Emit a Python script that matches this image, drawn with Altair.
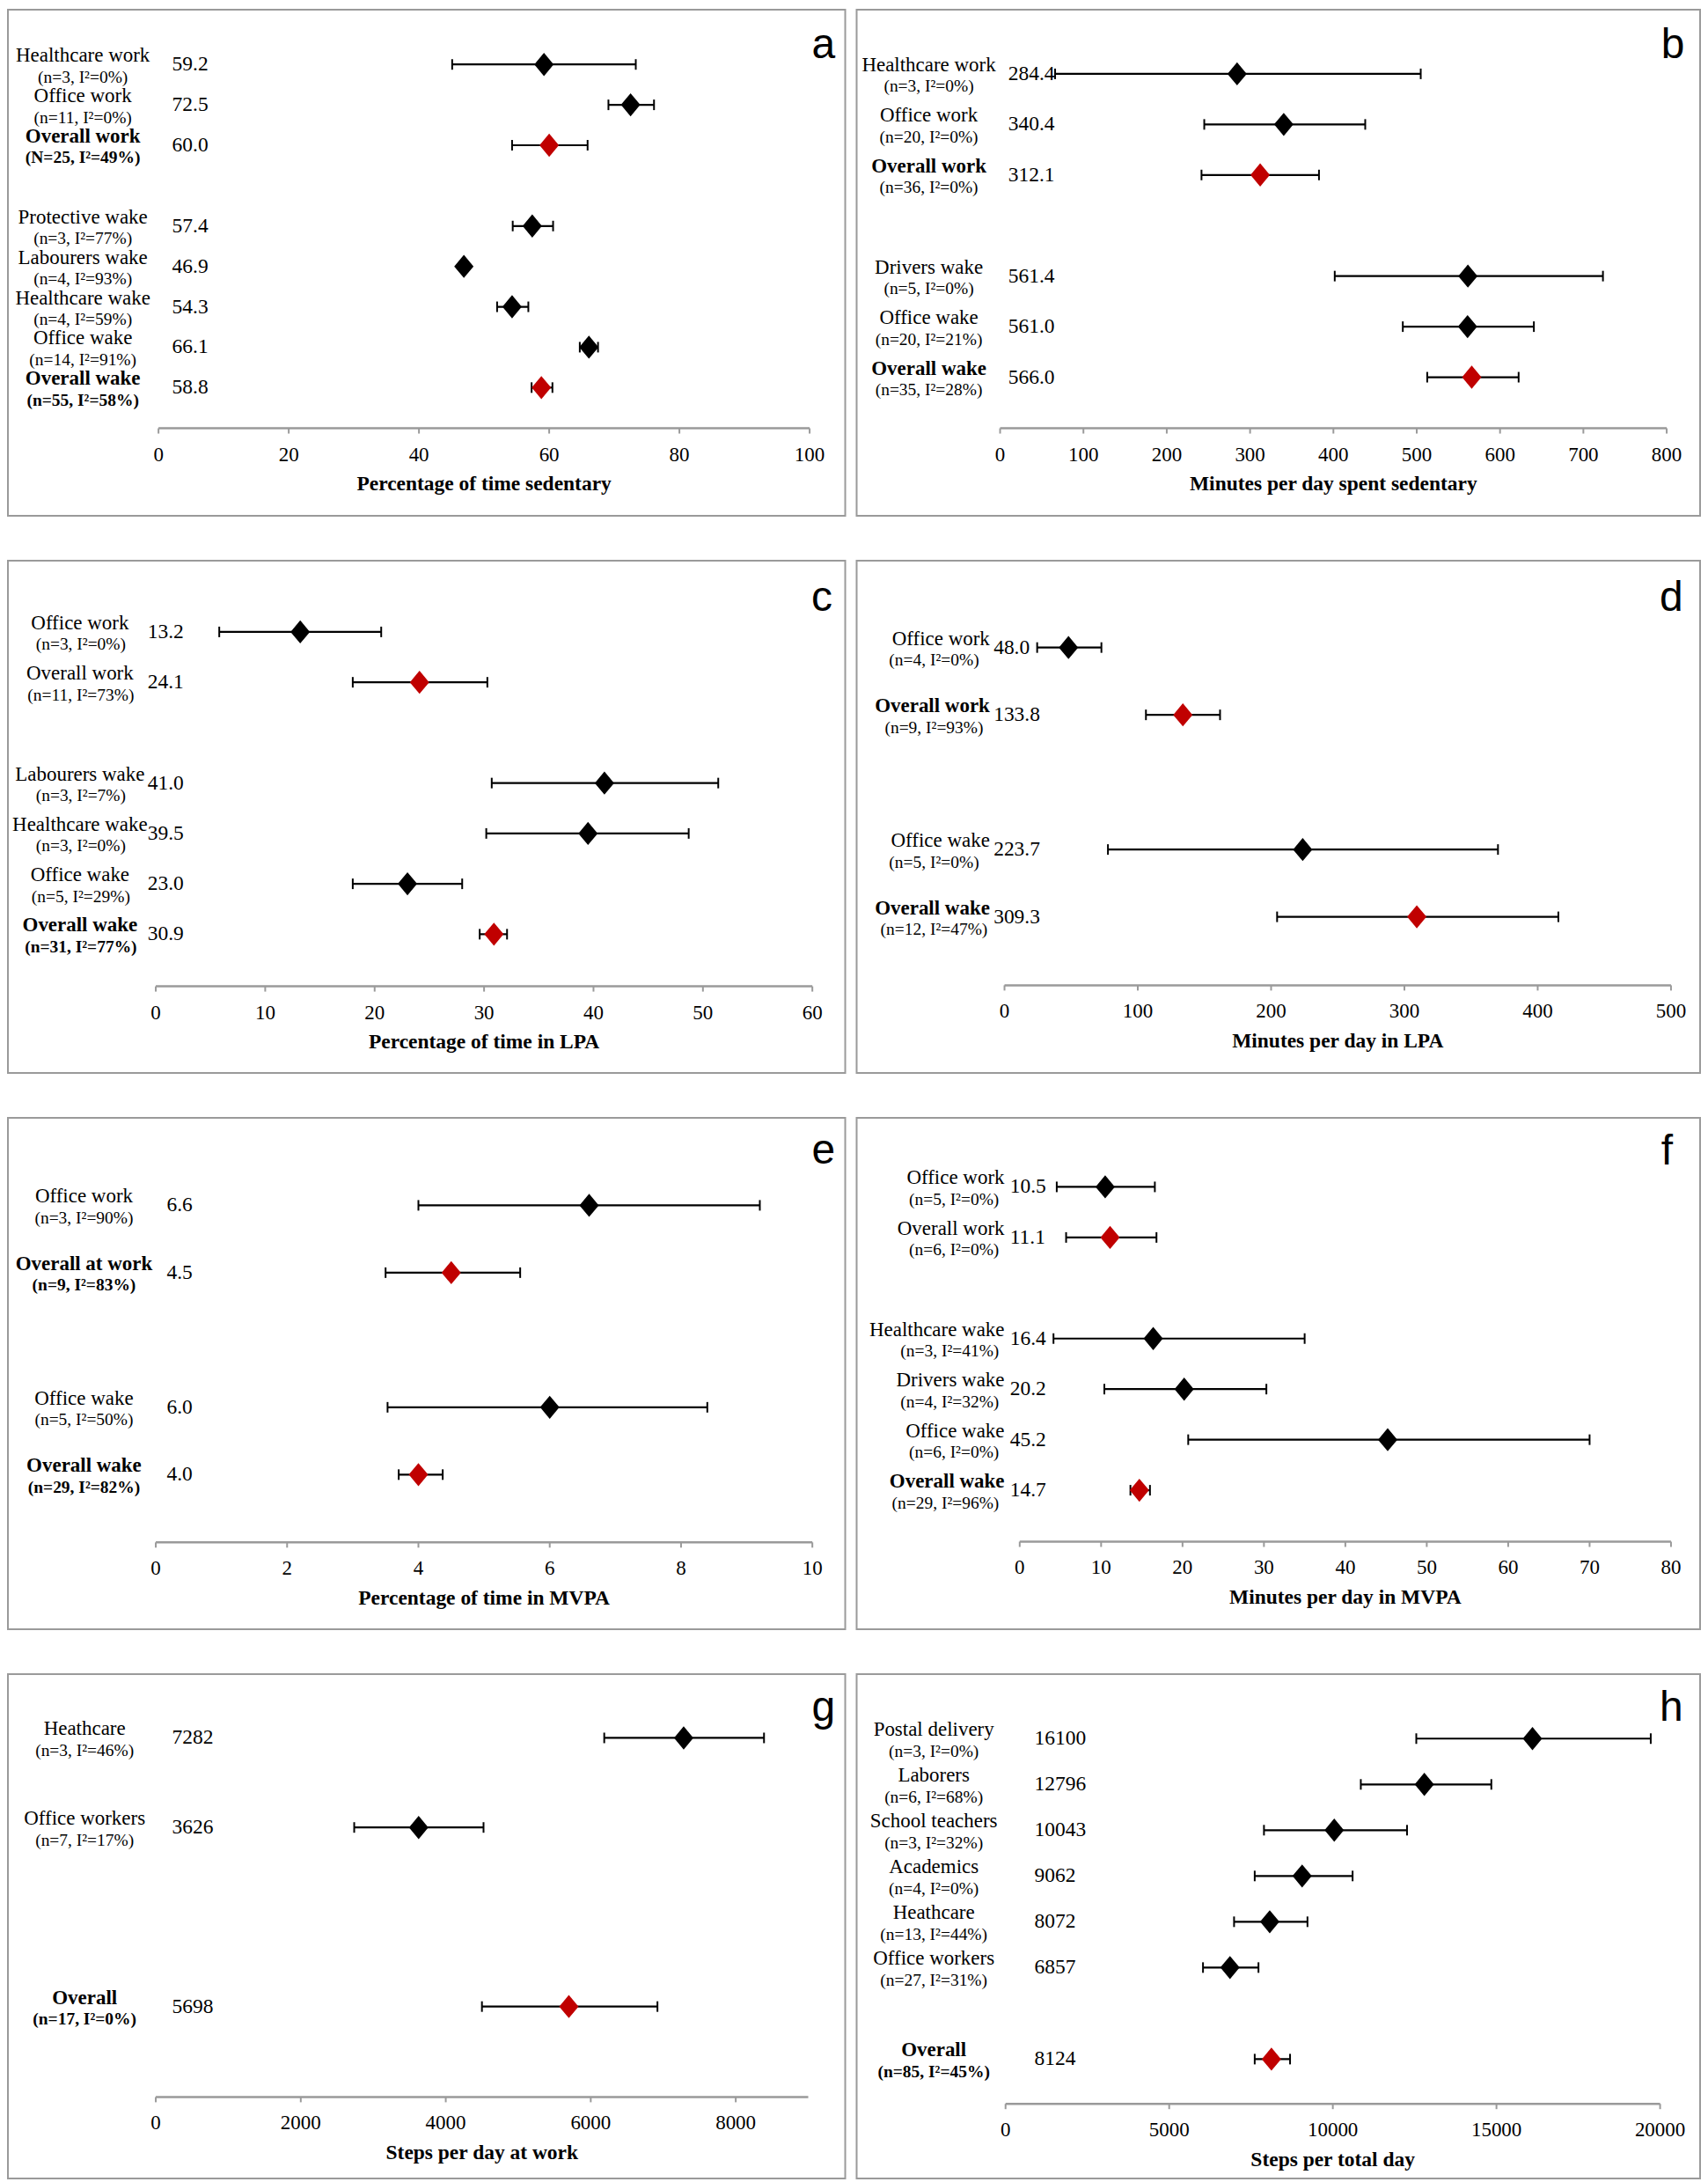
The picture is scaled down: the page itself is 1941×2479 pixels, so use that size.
import altair as alt
import pandas as pd

SERIF = "Liberation Serif"
SANS = "Liberation Sans"
RED = "#C00000"
GREY = "#9a9a9a"

# ---------------- data ----------------
# panel a : percentage of time sedentary
a_names = ["Healthcare work", "Office work", "Overall work", "Protective wake",
           "Labourers wake", "Healthcare wake", "Office wake", "Overall wake"]
a_stats = ["(n=3, I²=0%)", "(n=11, I²=0%)", "(N=25, I²=49%)", "(n=3, I²=77%)",
           "(n=4, I²=93%)", "(n=4, I²=59%)", "(n=14, I²=91%)", "(n=55, I²=58%)"]
a_est = [59.2, 72.5, 60.0, 57.4, 46.9, 54.3, 66.1, 58.8]
a_lo = [45.1, 69.1, 54.3, 54.4, 46.4, 52.0, 64.7, 57.3]
a_hi = [73.3, 76.1, 65.9, 60.6, 47.4, 56.8, 67.5, 60.5]
a_slot = [0, 1, 2, 4, 5, 6, 7, 8]
a_overall = [0, 0, 1, 0, 0, 0, 0, 1]
a_name_bold = [0, 0, 1, 0, 0, 0, 0, 1]
a_stat_bold = [0, 0, 1, 0, 0, 0, 0, 1]

# panel b : minutes per day spent sedentary
b_names = ["Healthcare work", "Office work", "Overall work", "Drivers wake",
           "Office wake", "Overall wake"]
b_stats = ["(n=3, I²=0%)", "(n=20, I²=0%)", "(n=36, I²=0%)", "(n=5, I²=0%)",
           "(n=20, I²=21%)", "(n=35, I²=28%)"]
b_est = [284.4, 340.4, 312.1, 561.4, 561.0, 566.0]
b_lo = [66.0, 245.0, 241.7, 401.6, 483.3, 512.6]
b_hi = [504.8, 438.2, 382.7, 723.5, 640.6, 622.3]
b_slot = [0, 1, 2, 4, 5, 6]
b_overall = [0, 0, 1, 0, 0, 1]
b_name_bold = [0, 0, 1, 0, 0, 1]
b_stat_bold = [0, 0, 0, 0, 0, 0]

# panel c : percentage of time in LPA
c_names = ["Office work", "Overall work", "Labourers wake", "Healthcare wake",
           "Office wake", "Overall wake"]
c_stats = ["(n=3, I²=0%)", "(n=11, I²=73%)", "(n=3, I²=7%)", "(n=3, I²=0%)",
           "(n=5, I²=29%)", "(n=31, I²=77%)"]
c_est = [13.2, 24.1, 41.0, 39.5, 23.0, 30.9]
c_lo = [5.8, 18.0, 30.7, 30.2, 18.0, 29.6]
c_hi = [20.6, 30.3, 51.4, 48.7, 28.0, 32.1]
c_slot = [0, 1, 3, 4, 5, 6]
c_overall = [0, 1, 0, 0, 0, 1]
c_name_bold = [0, 0, 0, 0, 0, 1]
c_stat_bold = [0, 0, 0, 0, 0, 1]

# panel d : minutes per day in LPA
d_names = ["Office work", "Overall work", "Office wake", "Overall wake"]
d_stats = ["(n=4, I²=0%)", "(n=9, I²=93%)", "(n=5, I²=0%)", "(n=12, I²=47%)"]
d_est = [48.0, 133.8, 223.7, 309.3]
d_lo = [24.5, 106.1, 77.6, 204.5]
d_hi = [72.7, 161.7, 370.2, 415.5]
d_slot = [0, 1, 3, 4]
d_overall = [0, 1, 0, 1]
d_name_bold = [0, 1, 0, 1]
d_stat_bold = [0, 0, 0, 0]

# panel e : percentage of time in MVPA
e_names = ["Office work", "Overall at work", "Office wake", "Overall wake"]
e_stats = ["(n=3, I²=90%)", "(n=9, I²=83%)", "(n=5, I²=50%)", "(n=29, I²=82%)"]
e_est = [6.6, 4.5, 6.0, 4.0]
e_lo = [4.0, 3.5, 3.53, 3.7]
e_hi = [9.2, 5.55, 8.4, 4.37]
e_slot = [0, 1, 3, 4]
e_overall = [0, 1, 0, 1]
e_name_bold = [0, 1, 0, 1]
e_stat_bold = [0, 1, 0, 1]

# panel f : minutes per day in MVPA
f_names = ["Office work", "Overall work", "Healthcare wake", "Drivers wake",
           "Office wake", "Overall wake"]
f_stats = ["(n=5, I²=0%)", "(n=6, I²=0%)", "(n=3, I²=41%)", "(n=4, I²=32%)",
           "(n=6, I²=0%)", "(n=29, I²=96%)"]
f_est = [10.5, 11.1, 16.4, 20.2, 45.2, 14.7]
f_lo = [4.55, 5.7, 4.15, 10.4, 20.7, 13.6]
f_hi = [16.6, 16.8, 35.0, 30.3, 70.0, 16.0]
f_slot = [0, 1, 3, 4, 5, 6]
f_overall = [0, 1, 0, 0, 0, 1]
f_name_bold = [0, 0, 0, 0, 0, 1]
f_stat_bold = [0, 0, 0, 0, 0, 0]

# panel g : steps per day at work
g_names = ["Heathcare", "Office workers", "Overall"]
g_stats = ["(n=3, I²=46%)", "(n=7, I²=17%)", "(n=17, I²=0%)"]
g_est = [7282, 3626, 5698]
g_lo = [6186, 2737, 4499]
g_hi = [8390, 4521, 6920]
g_slot = [0, 1, 3]
g_overall = [0, 0, 1]
g_name_bold = [0, 0, 1]
g_stat_bold = [0, 0, 1]

# panel h : steps per total day
h_names = ["Postal delivery", "Laborers", "School teachers", "Academics",
           "Heathcare", "Office workers", "Overall"]
h_stats = ["(n=3, I²=0%)", "(n=6, I²=68%)", "(n=3, I²=32%)", "(n=4, I²=0%)",
           "(n=13, I²=44%)", "(n=27, I²=31%)", "(n=85, I²=45%)"]
h_est = [16100, 12796, 10043, 9062, 8072, 6857, 8124]
h_lo = [12550, 10855, 7896, 7613, 6982, 6033, 7613]
h_hi = [19714, 14843, 12267, 10604, 9225, 7728, 8693]
h_slot = [0, 1, 2, 3, 4, 5, 7]
h_overall = [0, 0, 0, 0, 0, 0, 1]
h_name_bold = [0, 0, 0, 0, 0, 0, 1]
h_stat_bold = [0, 0, 0, 0, 0, 0, 1]

# axis tick values
a_ticks = [0, 20, 40, 60, 80, 100]
b_ticks = [0, 100, 200, 300, 400, 500, 600, 700, 800]
c_ticks = [0, 10, 20, 30, 40, 50, 60]
d_ticks = [0, 100, 200, 300, 400, 500]
e_ticks = [0, 2, 4, 6, 8, 10]
f_ticks = [0, 10, 20, 30, 40, 50, 60, 70, 80]
g_ticks = [0, 2000, 4000, 6000, 8000]
h_ticks = [0, 5000, 10000, 15000, 20000]

# ---------------- layout (page pixel coordinates) ----------------
LEFT = (8, 953)     # box left, width
RIGHT = (972, 960)
ROWS = [(8, 576), (633, 583), (1265, 582), (1896, 574)]  # box top, height

LAYOUT = {
    "a": dict(col=LEFT, row=ROWS[0], x0=179.4, x1=920.5, xref=100, axis_end=100,
              axis_y=484.4, row0=70.4, step=45.96,
              name_x=93.3, name_align="center", stat_x=93.3, stat_align="center",
              value_x=194.9, letter_x=949.6, letter_y=63.3, fmt=".1f",
              title="Percentage of time sedentary"),
    "b": dict(col=RIGHT, row=ROWS[0], x0=1135.3, x1=1894.0, xref=800, axis_end=800,
              axis_y=484.4, row0=81.1, step=57.53,
              name_x=1054.2, name_align="center", stat_x=1054.2, stat_align="center",
              value_x=1144.6, letter_x=1914.4, letter_y=63.3, fmt=".1f",
              title="Minutes per day spent sedentary"),
    "c": dict(col=LEFT, row=ROWS[1], x0=176.3, x1=923.6, xref=60, axis_end=60,
              axis_y=1117.4, row0=714.1, step=57.33,
              name_x=90.0, name_align="center", stat_x=91.0, stat_align="center",
              value_x=167.0, letter_x=946.5, letter_y=690.4, fmt=".1f",
              title="Percentage of time in LPA"),
    "d": dict(col=RIGHT, row=ROWS[1], x0=1140.3, x1=1898.9, xref=500, axis_end=500,
              axis_y=1116.2, row0=731.9, step=76.6,
              name_x=1123.6, name_align="right", stat_x=1060.1, stat_align="center",
              value_x=1127.9, letter_x=1912.5, letter_y=690.4, fmt=".1f",
              title="Minutes per day in LPA"),
    "e": dict(col=LEFT, row=ROWS[2], x0=176.3, x1=923.6, xref=10, axis_end=10,
              axis_y=1748.1, row0=1364.6, step=76.6,
              name_x=94.6, name_align="center", stat_x=94.6, stat_align="center",
              value_x=188.7, letter_x=949.6, letter_y=1317.1, fmt=".1f",
              title="Percentage of time in MVPA"),
    "f": dict(col=RIGHT, row=ROWS[2], x0=1157.6, x1=1898.9, xref=80, axis_end=80,
              axis_y=1747.3, row0=1343.6, step=57.53,
              name_x=1140.3, name_align="right", stat_x=1134.1, stat_align="right",
              value_x=1146.5, letter_x=1901.0, letter_y=1317.9, fmt=".1f",
              title="Minutes per day in MVPA"),
    "g": dict(col=LEFT, row=ROWS[3], x0=176.3, x1=836.4, xref=8000, axis_end=9000,
              axis_y=2377.2, row0=1968.6, step=101.9,
              name_x=95.3, name_align="center", stat_x=95.3, stat_align="center",
              value_x=194.9, letter_x=949.6, letter_y=1948.8, fmt="d",
              title="Steps per day at work"),
    "h": dict(col=RIGHT, row=ROWS[3], x0=1141.5, x1=1886.5, xref=20000, axis_end=20000,
              axis_y=2385.0, row0=1969.4, step=52.1,
              name_x=1059.8, name_align="center", stat_x=1059.8, stat_align="center",
              value_x=1174.4, letter_x=1912.5, letter_y=1948.8, fmt="d",
              title="Steps per total day"),
}

DATA = {
    "a": (a_names, a_stats, a_est, a_lo, a_hi, a_slot, a_overall, a_name_bold, a_stat_bold, a_ticks),
    "b": (b_names, b_stats, b_est, b_lo, b_hi, b_slot, b_overall, b_name_bold, b_stat_bold, b_ticks),
    "c": (c_names, c_stats, c_est, c_lo, c_hi, c_slot, c_overall, c_name_bold, c_stat_bold, c_ticks),
    "d": (d_names, d_stats, d_est, d_lo, d_hi, d_slot, d_overall, d_name_bold, d_stat_bold, d_ticks),
    "e": (e_names, e_stats, e_est, e_lo, e_hi, e_slot, e_overall, e_name_bold, e_stat_bold, e_ticks),
    "f": (f_names, f_stats, f_est, f_lo, f_hi, f_slot, f_overall, f_name_bold, f_stat_bold, f_ticks),
    "g": (g_names, g_stats, g_est, g_lo, g_hi, g_slot, g_overall, g_name_bold, g_stat_bold, g_ticks),
    "h": (h_names, h_stats, h_est, h_lo, h_hi, h_slot, h_overall, h_name_bold, h_stat_bold, h_ticks),
}

NAME_SIZE = 23
STAT_SIZE = 19.5
VALUE_SIZE = 23.5
TICK_SIZE = 23
TITLE_SIZE = 23.5
DIAMOND = "M-1,0L0,-1.2L1,0L0,1.2Z"


def panel(letter):
    names, stats, est, lo, hi, slot, overall, nbold, sbold, ticks = DATA[letter]
    lay = LAYOUT[letter]
    L, W = lay["col"]
    T, H = lay["row"]
    k = (lay["x1"] - lay["x0"]) / lay["xref"]
    dmin = -(lay["x0"] - L) / k
    dmax = dmin + W / k
    y0 = lay["row0"] - T
    step = lay["step"]
    xs = alt.Scale(domain=[dmin, dmax], nice=False, zero=False)
    ys = alt.Scale(domain=[-y0 / step, (H - y0) / step], nice=False, zero=False, reverse=True)
    axis_slot = (lay["axis_y"] - lay["row0"]) / step
    end_px = lay["x0"] + lay["axis_end"] * k
    mid_rel = (lay["x0"] + end_px) / 2 - L

    df = pd.DataFrame({
        "name": names, "stat": stats, "est": est, "lo": lo, "hi": hi,
        "slot": slot, "overall": [bool(v) for v in overall],
        "nbold": [bool(v) for v in nbold], "sbold": [bool(v) for v in sbold],
    })
    base = alt.Chart(df)
    Y = alt.Y("slot:Q", scale=ys, axis=None)

    # x axis drawn through the panel's own x scale
    axis_df = pd.DataFrame({"start": [0], "end": [lay["axis_end"]], "slot": [axis_slot]})
    tick_df = pd.DataFrame({"t": ticks, "slot": [axis_slot] * len(ticks)})
    title_df = pd.DataFrame({"title": [lay["title"]], "slot": [axis_slot]})

    axis_line = alt.Chart(axis_df).mark_rule(color=GREY, strokeWidth=2.5).encode(
        x=alt.X("start:Q", scale=xs, axis=None), x2="end:Q", y=Y)
    axis_ticks = alt.Chart(tick_df).mark_point(
        shape="M0,0L0,1", size=144, filled=False, color=GREY, strokeWidth=2,
        opacity=1).encode(x=alt.X("t:Q", scale=xs, axis=None), y=Y)
    axis_labels = alt.Chart(tick_df).mark_text(
        font=SERIF, fontSize=TICK_SIZE, align="center", baseline="middle", dy=30,
        color="black").encode(
        x=alt.X("t:Q", scale=xs, axis=None), y=Y, text=alt.Text("t:Q", format="d"))
    axis_title = alt.Chart(title_df).mark_text(
        font=SERIF, fontSize=TITLE_SIZE, fontWeight="bold", align="center",
        baseline="middle", dy=63.5, color="black").encode(
        x=alt.value(mid_rel), y=Y, text="title:N")

    err = base.mark_rule(color="black", strokeWidth=2.2).encode(
        x=alt.X("lo:Q", scale=xs, axis=None), x2="hi:Q", y=Y)

    caps = base.transform_fold(["lo", "hi"], as_=["which", "xv"]).mark_point(
        shape="M0,-1L0,1", size=144, filled=False, color="black",
        strokeWidth=2, opacity=1).encode(
        x=alt.X("xv:Q", scale=xs, axis=None), y=Y)

    dots = base.mark_point(shape=DIAMOND, filled=True, size=484, opacity=1,
                           strokeWidth=0).encode(
        x=alt.X("est:Q", scale=xs, axis=None), y=Y,
        color=alt.condition("datum.overall", alt.value(RED), alt.value("black")))

    layers = [axis_line, axis_ticks, axis_labels, axis_title, err, caps, dots]
    for bold in (False, True):
        flt = "datum.nbold" if bold else "!datum.nbold"
        layers.append(base.transform_filter(flt).mark_text(
            font=SERIF, fontSize=NAME_SIZE, fontWeight="bold" if bold else "normal",
            align=lay["name_align"], baseline="middle", dy=-10, color="black").encode(
            x=alt.value(lay["name_x"] - L), y=Y, text="name:N"))
        flt = "datum.sbold" if bold else "!datum.sbold"
        layers.append(base.transform_filter(flt).mark_text(
            font=SERIF, fontSize=STAT_SIZE, fontWeight="bold" if bold else "normal",
            align=lay["stat_align"], baseline="middle", dy=14.5, color="black").encode(
            x=alt.value(lay["stat_x"] - L), y=Y, text="stat:N"))

    layers.append(base.mark_text(
        font=SERIF, fontSize=VALUE_SIZE, align="left", baseline="middle", color="black").encode(
        x=alt.value(lay["value_x"] - L), y=Y, text=alt.Text("est:Q", format=lay["fmt"])))

    layers.append(alt.Chart(pd.DataFrame({"letter": [letter]})).mark_text(
        font=SANS, fontSize=48, align="right", baseline="alphabetic", color="black").encode(
        x=alt.value(lay["letter_x"] - L), y=alt.value(lay["letter_y"] - T), text="letter:N"))

    return alt.layer(*layers).properties(width=W, height=H)


rows = [alt.hconcat(panel(l), panel(r), spacing=11)
        for l, r in (("a", "b"), ("c", "d"), ("e", "f"), ("g", "h"))]

chart = alt.vconcat(*rows, spacing=49).properties(
    padding=0, background="white"
).configure_view(stroke=GREY, strokeWidth=2)

chart.save("out.html", embed_options={"renderer": "svg", "actions": False})
